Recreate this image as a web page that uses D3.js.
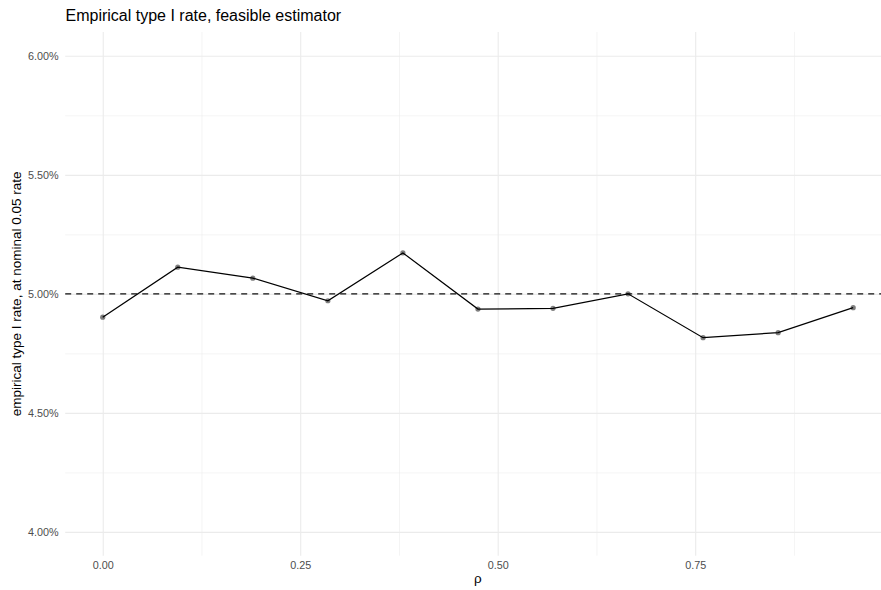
<!DOCTYPE html>
<html>
<head>
<meta charset="utf-8">
<script src="https://cdn.jsdelivr.net/npm/d3@7"></script>
<style>
  html, body { margin: 0; padding: 0; background: #fff; }
  svg { display: block; font-family: "Liberation Sans", Arial, Helvetica, sans-serif; }
</style>
</head>
<body>
<div id="chart"></div>
<script>
// ---- data ----
const rho = [0, 0.095, 0.19, 0.285, 0.38, 0.475, 0.57, 0.665, 0.76, 0.855, 0.95];
const typeIRate = [0.04902, 0.05112, 0.05066, 0.04971, 0.05172, 0.04936, 0.04939, 0.05000, 0.04816, 0.04837, 0.04942];
const nominalRate = 0.05;
const xMajorTicks = [0, 0.25, 0.5, 0.75];
const xMinorTicks = [0.125, 0.375, 0.625, 0.875];
const yMajorTicks = [0.04, 0.045, 0.05, 0.055, 0.06];
const yMinorTicks = [0.0425, 0.0475, 0.0525, 0.0575];
const titleText = "Empirical type I rate, feasible estimator";
const xTitle = "ρ";
const yTitle = "empirical type I rate, at nominal 0.05 rate";

// ---- layout ----
const W = 881, H = 590;
const panel = { left: 65.2, right: 890.7, top: 32, bottom: 555.7 };

const svg = d3.select("#chart").append("svg").attr("width", W).attr("height", H);

const x = d3.scaleLinear().domain([-0.0475, 0.9975]).range([panel.left, panel.right]);
const y = d3.scaleLinear().domain([0.039, 0.061]).range([panel.bottom, panel.top]);

const pw = panel.right - panel.left, ph = panel.bottom - panel.top;
const gridColor = "#EBEBEB";

// minor grid
svg.append("g").attr("transform", `translate(${panel.left},0)`)
  .call(d3.axisLeft(y).tickValues(yMinorTicks).tickSize(-pw).tickFormat(""))
  .call(g => { g.select(".domain").remove(); g.selectAll("line").attr("stroke", gridColor).attr("stroke-width", 0.55); });
svg.append("g").attr("transform", `translate(0,${panel.bottom})`)
  .call(d3.axisBottom(x).tickValues(xMinorTicks).tickSize(-ph).tickFormat(""))
  .call(g => { g.select(".domain").remove(); g.selectAll("line").attr("stroke", gridColor).attr("stroke-width", 0.55); });

// major grid + labels
svg.append("g").attr("transform", `translate(${panel.left},0)`)
  .call(d3.axisLeft(y).tickValues(yMajorTicks).tickSize(-pw).tickPadding(6.5).tickFormat(d3.format(".2%")))
  .call(g => {
    g.select(".domain").remove();
    g.selectAll("line").attr("stroke", gridColor).attr("stroke-width", 1.1);
    g.selectAll("text").attr("fill", "#4D4D4D").attr("font-size", "10.8px").attr("font-family", "Liberation Sans, Arial, sans-serif");
  });
svg.append("g").attr("transform", `translate(0,${panel.bottom})`)
  .call(d3.axisBottom(x).tickValues(xMajorTicks).tickSize(-ph).tickPadding(6).tickFormat(d3.format(".2f")))
  .call(g => {
    g.select(".domain").remove();
    g.selectAll("line").attr("stroke", gridColor).attr("stroke-width", 1.1);
    g.selectAll("text").attr("fill", "#4D4D4D").attr("font-size", "10.8px").attr("font-family", "Liberation Sans, Arial, sans-serif");
  });

// nominal dashed line
svg.append("line")
  .attr("x1", x.range()[0]).attr("x2", x.range()[1])
  .attr("y1", y(nominalRate)).attr("y2", y(nominalRate))
  .attr("stroke", "#111").attr("stroke-width", 1.4).attr("stroke-dasharray", "6,5");

// data line
const pts = rho.map((r, i) => [r, typeIRate[i]]);
svg.append("path").datum(pts)
  .attr("fill", "none").attr("stroke", "#000").attr("stroke-width", 1.2)
  .attr("d", d3.line().x(d => x(d[0])).y(d => y(d[1])));

// points
svg.append("g").selectAll("circle").data(pts).join("circle")
  .attr("cx", d => x(d[0])).attr("cy", d => y(d[1])).attr("r", 2.6)
  .attr("fill", "#000").attr("fill-opacity", 0.5);

// titles
svg.append("text").attr("x", 65.5).attr("y", 20.7).attr("font-size", "16px").attr("fill", "#000").text(titleText);
svg.append("text").attr("x", (panel.left + panel.right) / 2).attr("y", 583)
  .attr("text-anchor", "middle").attr("font-size", "13.5px").attr("fill", "#000").text(xTitle);
svg.append("text").attr("transform", `translate(20.5,${(panel.top + panel.bottom) / 2}) rotate(-90)`)
  .attr("text-anchor", "middle").attr("font-size", "13.5px").attr("fill", "#000").text(yTitle);
</script>
</body>
</html>
